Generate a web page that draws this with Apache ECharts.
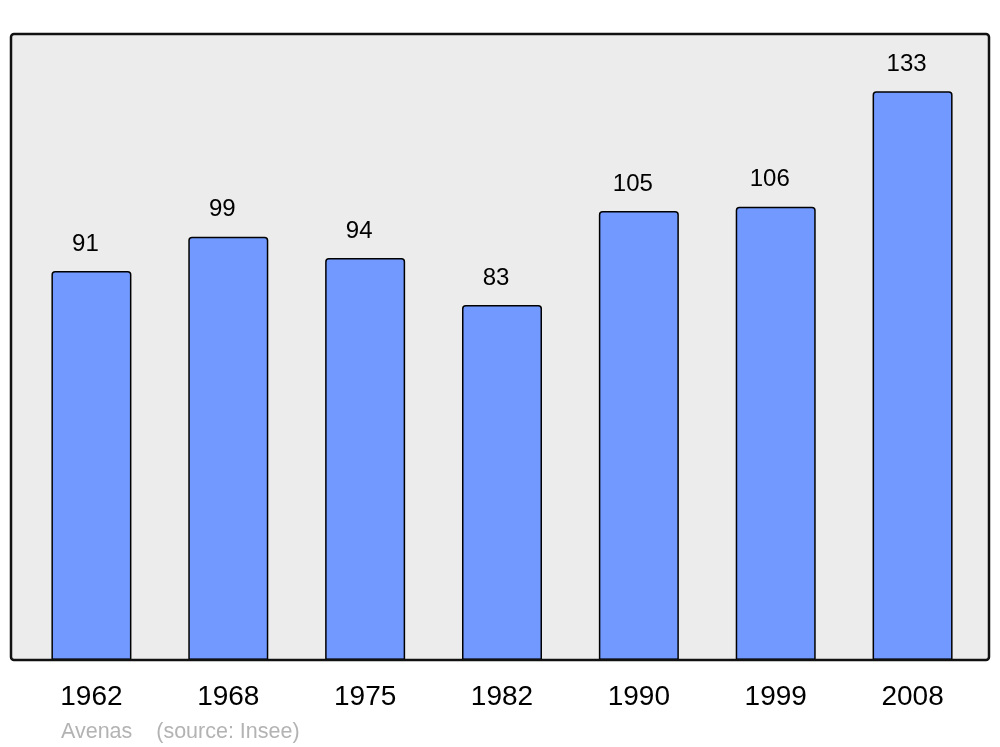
<!DOCTYPE html>
<html>
<head>
<meta charset="utf-8">
<script src="https://cdn.jsdelivr.net/npm/echarts@6/dist/echarts.min.js"></script>
<style>html,body{margin:0;padding:0;background:#fff;}#c{width:1000px;height:747px;}</style>
</head>
<body>
<div id="c"></div>
<script>
const years = ['1962', '1968', '1975', '1982', '1990', '1999', '2008'];
const population = [91, 99, 94, 83, 105, 106, 133];
const sourceText = 'Avenas    (source: Insee)';

const chart = echarts.init(document.getElementById('c'), null, {renderer: 'canvas'});
chart.setOption({
  animation: false,
  backgroundColor: '#ffffff',
  textStyle: {fontFamily: 'Liberation Sans, Arial, sans-serif'},
  grid: {left: 23, right: 19, top: 34, bottom: 87},
  xAxis: {
    type: 'category',
    data: years,
    axisLine: {show: false},
    axisTick: {show: false},
    axisLabel: {color: '#000', fontSize: 28, margin: 23, fontFamily: 'Liberation Sans, Arial, sans-serif'}
  },
  yAxis: {
    type: 'value', min: 0, max: 146.4, show: false, splitLine: {show: false}
  },
  graphic: [
    {type: 'rect', z: -10, shape: {x: 11, y: 34, width: 978, height: 626, r: 3}, style: {fill: '#ececec', stroke: null}},
    {type: 'rect', z: 100, shape: {x: 11, y: 34, width: 978, height: 626, r: 3}, style: {fill: null, stroke: '#111', lineWidth: 2.5}},
    {type: 'text', left: 61, top: 721, style: {text: sourceText, fill: '#b3b3b3', fontSize: 21.5, fontFamily: 'Liberation Sans, Arial, sans-serif'}}
  ],
  series: [{
    type: 'bar',
    data: population,
    barWidth: 80,
    itemStyle: {color: '#7299ff', borderColor: '#000', borderWidth: 1.5, borderRadius: [3, 3, 0, 0]},
    label: {show: true, position: 'top', distance: 15, offset: [-6, 0], color: '#000', fontSize: 24, fontFamily: 'Liberation Sans, Arial, sans-serif'}
  }]
});
</script>
</body>
</html>
